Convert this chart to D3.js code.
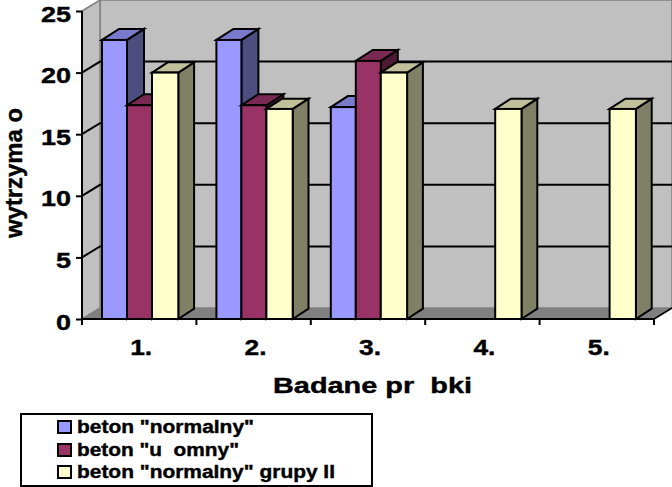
<!DOCTYPE html>
<html><head><meta charset="utf-8">
<script src="https://cdnjs.cloudflare.com/ajax/libs/d3/7.8.5/d3.min.js"></script>
<style>html,body{margin:0;padding:0;background:#fff}svg{display:block}
text{font-family:"Liberation Sans",Arial,sans-serif;font-weight:bold;fill:#000;stroke:#000;stroke-width:0.4px;white-space:pre}</style></head>
<body><svg id="c" width="672" height="487"></svg>
<script>
const categories = ["1.","2.","3.","4.","5."];
const seriesNames = ['beton "normalny"','beton "u  omny"','beton "normalny" grupy II'];
const normalny = [22.65,22.65,17.2,null,null];
const ulomny = [17.35,17.35,20.95,null,null];
const grupyII = [20,17.05,20,17.05,17.05];
const yTicks = [0,5,10,15,20,25];
const yTitle = "wytrzyma o";
const xTitle = "Badane pr  bki";
const seriesValues = [normalny,ulomny,grupyII];
const front = ["#9999ff","#993366","#ffffcc"];
const topFace = ["#7a7acc","#7a2952","#c0c09b"];
const sideFace = ["#4d4d80","#4d1a33","#808066"];

const svg = d3.select("#c");
const dx = 18, dy = -11;
const x = d3.scaleBand().domain(categories).range([82,654]);
const y = d3.scaleLinear().domain([0,25]).range([319,11]);
const barW = [25,25,26.3], barDepth = [17,17,15.8], barRise = [11,11,10.3], barStart = [0,25,50];
const pts = a => a.map(p=>p.join(",")).join(" ");
const k = "#000";

// walls
svg.append("polygon").attr("points",pts([[x.range()[0]+dx,y(25)+dy],[x.range()[1]+dx,y(25)+dy],[x.range()[1]+dx,y(0)+dy],[x.range()[0]+dx,y(0)+dy]])).attr("fill","#c0c0c0").attr("stroke","#808080").attr("stroke-width",1.5);
svg.append("polygon").attr("points",pts([[82,y(0)],[82,y(25)],[82+dx,y(25)+dy],[82+dx,y(0)+dy]])).attr("fill","#c0c0c0").attr("stroke","#808080").attr("stroke-width",1.5);
svg.append("polygon").attr("points",pts([[82,y(0)],[82+dx,y(0)+dy],[654+dx,y(0)+dy],[654,y(0)]])).attr("fill","#808080");

// gridlines
yTicks.filter(t=>t>0&&t<25).forEach(t=>{
  svg.append("polyline").attr("points",pts([[82,y(t)],[82+dx,y(t)+dy],[654+dx,y(t)+dy]])).attr("fill","none").attr("stroke",k).attr("stroke-width",2);
});
svg.append("line").attr("x1",654).attr("y1",y(0)).attr("x2",654+dx).attr("y2",y(0)+dy).attr("stroke",k).attr("stroke-width",1.5);

// bars
categories.forEach((c,i)=>{
  seriesValues.forEach((vals,s)=>{
    const v = vals[i]; if(v==null) return;
    const x0 = x(c)+20+barStart[s], x1 = x0+barW[s], y0 = y(v), yb = y(0), d = barDepth[s], r = barRise[s];
    const g = svg.append("g").attr("stroke",k).attr("stroke-width",2).attr("stroke-linejoin","miter");
    g.append("polygon").attr("points",pts([[x1,y0],[x1+d,y0-r],[x1+d,yb-r],[x1,yb]])).attr("fill",sideFace[s]);
    g.append("polygon").attr("points",pts([[x0,y0],[x0+d,y0-r],[x1+d,y0-r],[x1,y0]])).attr("fill",topFace[s]);
    g.append("rect").attr("x",x0).attr("y",y0).attr("width",barW[s]).attr("height",yb-y0).attr("fill",front[s]);
  });
});

// axes
const ax = svg.append("g").attr("transform","translate(82,0)").call(d3.axisLeft(y).tickValues(yTicks).tickSize(6).tickPadding(5));
ax.select(".domain").attr("stroke",k).attr("stroke-width",2).attr("d",`M0,${y(0)}V${y(25)}`);
ax.selectAll("line").attr("stroke",k).attr("stroke-width",2);
ax.selectAll("text").attr("font-size",22).attr("dy","0.46em").each(function(d){
  d3.select(this).attr("textLength", String(d).length*15).attr("lengthAdjust","spacingAndGlyphs");
});

const bx = svg.append("g").attr("transform","translate(0,319)");
bx.append("line").attr("x1",82).attr("x2",654).attr("stroke",k).attr("stroke-width",2);
d3.range(categories.length+1).forEach(i=>{
  const tx = 82+i*x.step();
  bx.append("line").attr("x1",tx).attr("x2",tx).attr("y1",0).attr("y2",6).attr("stroke",k).attr("stroke-width",2);
});
categories.forEach(c=>{
  svg.append("text").attr("x",x(c)+x.bandwidth()/2+2).attr("y",355).attr("text-anchor","middle").attr("font-size",22).attr("textLength",22).attr("lengthAdjust","spacingAndGlyphs").text(c);
});

// titles
svg.append("text").attr("x",273).attr("y",393).attr("font-size",22).attr("textLength",199).attr("lengthAdjust","spacingAndGlyphs").text(xTitle);
svg.append("text").attr("transform","translate(21.5,238) rotate(-90)").attr("font-size",23).attr("textLength",130).attr("lengthAdjust","spacingAndGlyphs").text(yTitle);

// legend
svg.append("rect").attr("x",21).attr("y",414).attr("width",351).attr("height",72).attr("fill","#fff").attr("stroke",k).attr("stroke-width",2);
const rowY = [427,450,472], lenW = [177,162,258];
seriesNames.forEach((n,i)=>{
  svg.append("rect").attr("x",58).attr("y",rowY[i]-6).attr("width",13).attr("height",12).attr("fill",front[i]).attr("stroke",k).attr("stroke-width",2);
  svg.append("text").attr("x",77).attr("y",rowY[i]+6).attr("font-size",18).attr("textLength",lenW[i]).attr("lengthAdjust","spacingAndGlyphs").text(n);
});
</script></body></html>
